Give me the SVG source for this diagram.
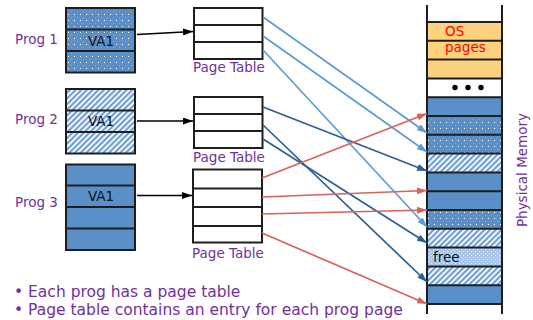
<svg xmlns="http://www.w3.org/2000/svg" width="533" height="320" viewBox="0 0 533 320">
<style>
text{font-family:"DejaVu Sans",Verdana,sans-serif}
.lbl{fill:#7030a0;font-size:13.5px}
.va{fill:#111;font-size:13.5px;text-anchor:middle}
.bul{fill:#7030a0;font-size:15.5px}
.box{stroke:#1e1e1e;stroke-width:2}
.pt{fill:#fff;stroke:#1e1e1e;stroke-width:2}
.div{stroke:#1e1e1e;stroke-width:2;fill:none}
.solid{fill:#5b8fc8}
.dot{fill:url(#dots)}
.hat{fill:url(#hatch)}
.free{fill:url(#freep)}
.os{fill:#fdd27f}
.c{fill:none;stroke-width:1.7}
.lb{stroke:#5b9bd5}
.db{stroke:#2c5f95}
.rd{stroke:#d9625a}
.bk{stroke:#000;stroke-width:1.7;fill:none}
</style>
<defs>
<pattern id="dots" width="6" height="6" patternUnits="userSpaceOnUse">
<rect width="6" height="6" fill="#5b8fc8"/>
<rect x="2" y="2" width="1" height="1" fill="#ffffff"/>
<rect x="5" y="5" width="1" height="1" fill="#7ea8d8"/>
</pattern>
<pattern id="hatch" width="4" height="4" patternUnits="userSpaceOnUse" patternTransform="rotate(45)">
<rect width="4" height="4" fill="#ffffff"/>
<rect width="2.2" height="4" fill="#6e9fd8"/>
</pattern>
<pattern id="freep" width="4" height="4" patternUnits="userSpaceOnUse">
<rect width="4" height="4" fill="#a9c7ea"/>
<rect x="1" y="1" width="1" height="1" fill="#e2ecf8"/>
<rect x="3" y="3" width="1" height="1" fill="#e2ecf8"/>
</pattern>
<marker id="aLB" viewBox="0 0 10 7" markerWidth="10" markerHeight="7" refX="10" refY="3.5" orient="auto" markerUnits="userSpaceOnUse"><path d="M0,0L10,3.5L0,7z" fill="#5b9bd5"/></marker>
<marker id="aDB" viewBox="0 0 10 7" markerWidth="10" markerHeight="7" refX="10" refY="3.5" orient="auto" markerUnits="userSpaceOnUse"><path d="M0,0L10,3.5L0,7z" fill="#2c5f95"/></marker>
<marker id="aRD" viewBox="0 0 10 7" markerWidth="10" markerHeight="7" refX="10" refY="3.5" orient="auto" markerUnits="userSpaceOnUse"><path d="M0,0L10,3.5L0,7z" fill="#d9625a"/></marker>
<marker id="aBK" viewBox="0 0 10 7" markerWidth="10" markerHeight="7" refX="10" refY="3.5" orient="auto" markerUnits="userSpaceOnUse"><path d="M0,0L10,3.5L0,7z" fill="#000"/></marker>
</defs>
<rect width="533" height="320" fill="#ffffff"/>

<g id="prog1">
<text class="lbl" x="15" y="44">Prog 1</text>
<rect class="dot" x="66" y="8" width="69" height="64.5"/>
<path class="div" d="M66,29.5H135M66,51H135"/>
<rect class="box" fill="none" x="66" y="8" width="69" height="64.5"/>
<text class="va" x="101" y="45.5">VA1</text>
</g>

<g id="prog2">
<text class="lbl" x="15" y="124">Prog 2</text>
<rect class="hat" x="66" y="89" width="69" height="64.5"/>
<path class="div" d="M66,110.5H135M66,132H135"/>
<rect class="box" fill="none" x="66" y="89" width="69" height="64.5"/>
<text class="va" x="101" y="126">VA1</text>
</g>

<g id="prog3">
<text class="lbl" x="15" y="207">Prog 3</text>
<rect class="solid" x="66" y="164.5" width="69" height="85.5"/>
<path class="div" d="M66,185.5H135M66,207H135M66,228.5H135"/>
<rect class="box" fill="none" x="66" y="164.5" width="69" height="85.5"/>
<text class="va" x="101" y="201">VA1</text>
</g>

<g id="pt1">
<rect class="pt" x="194" y="8" width="68.5" height="51"/>
<path class="div" d="M194,25H262.5M194,42H262.5"/>
<text class="lbl" x="193" y="72">Page Table</text>
</g>

<g id="pt2">
<rect class="pt" x="194" y="97" width="68.5" height="51"/>
<path class="div" d="M194,114H262.5M194,131H262.5"/>
<text class="lbl" x="193" y="161.5">Page Table</text>
</g>

<g id="pt3">
<rect class="pt" x="193" y="169.5" width="69" height="73"/>
<path class="div" d="M193,188.5H262M193,207H262M193,226H262"/>
<text class="lbl" x="192" y="258">Page Table</text>
</g>

<g id="memory">
<rect class="os" x="427" y="22" width="75" height="56.4"/>
<rect class="solid" x="427" y="97.2" width="75" height="18.8"/>
<rect class="dot" x="427" y="116" width="75" height="37.6"/>
<rect class="hat" x="427" y="153.6" width="75" height="18.8"/>
<rect class="solid" x="427" y="172.4" width="75" height="37.6"/>
<rect class="dot" x="427" y="210" width="75" height="18.8"/>
<rect class="hat" x="427" y="228.8" width="75" height="18.8"/>
<rect class="free" x="427" y="247.6" width="75" height="18.8"/>
<rect class="hat" x="427" y="266.4" width="75" height="18.8"/>
<rect class="solid" x="427" y="285.2" width="75" height="18.8"/>
<path class="div" d="M427,22H502M427,40.8H502M427,59.6H502M427,78.4H502M427,97.2H502M427,116H502M427,134.8H502M427,153.6H502M427,172.4H502M427,191.2H502M427,210H502M427,228.8H502M427,247.6H502M427,266.4H502M427,285.2H502M427,304H502"/>
<path class="div" d="M427,5V314M502,5V314"/>
<text x="445" y="35.5" fill="#ff0000" font-size="13.5">OS</text>
<text x="445" y="52" fill="#ff0000" font-size="13.5">pages</text>
<circle cx="455" cy="87.5" r="2.7" fill="#000"/>
<circle cx="468" cy="87.5" r="2.7" fill="#000"/>
<circle cx="481" cy="87.5" r="2.7" fill="#000"/>
<text x="433" y="262" fill="#111" font-size="13.5">free</text>
<text class="lbl" transform="translate(527,170) rotate(-90)" text-anchor="middle">Physical Memory</text>
</g>

<g id="connectors">
<path class="bk" d="M137,34.5L193,31.5" marker-end="url(#aBK)"/>
<path class="bk" d="M137,121L193,121" marker-end="url(#aBK)"/>
<path class="bk" d="M137,195.5L192,195.5" marker-end="url(#aBK)"/>

<path class="c lb" d="M263,17L427,133" marker-end="url(#aLB)"/>
<path class="c lb" d="M263,36L427,152" marker-end="url(#aLB)"/>
<path class="c lb" d="M263,50L427,227" marker-end="url(#aLB)"/>

<path class="c db" d="M263,107L427,171" marker-end="url(#aDB)"/>
<path class="c db" d="M263,125L427,282" marker-end="url(#aDB)"/>
<path class="c db" d="M263,139L427,243" marker-end="url(#aDB)"/>

<path class="c rd" d="M262,178L427,113.5" marker-end="url(#aRD)"/>
<path class="c rd" d="M262,197L427,190.5" marker-end="url(#aRD)"/>
<path class="c rd" d="M262,214L427,210" marker-end="url(#aRD)"/>
<path class="c rd" d="M262,233L427,304" marker-end="url(#aRD)"/>
</g>

<g id="notes">
<text class="bul" x="14" y="297">• Each prog has a page table</text>
<text class="bul" x="14" y="314.5">• Page table contains an entry for each prog page</text>
</g>
</svg>
